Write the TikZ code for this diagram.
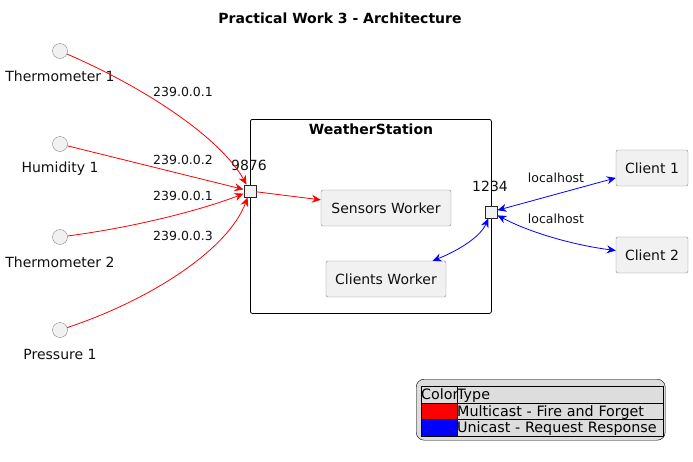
\documentclass[tikz,border=0pt]{standalone}
\usepackage{fontspec}
\setmainfont{DejaVu Sans}
\usetikzlibrary{arrows.meta}
\definecolor{boxfill}{HTML}{F1F1F1}
\definecolor{boxline}{HTML}{888888}
\definecolor{legfill}{HTML}{DDDDDD}
\definecolor{txt}{HTML}{101010}
\tikzset{
  lbl/.style={font=\fontsize{14}{16}\selectfont, inner sep=0pt, text=txt},
  elbl/.style={font=\fontsize{12.5}{14}\selectfont, inner sep=0pt, text=txt},
  actor/.style={circle, draw=boxline, fill=boxfill, minimum size=15pt, inner sep=0pt},
  comp/.style={draw=boxline, fill=boxfill, rounded corners=2pt, minimum height=36pt, inner sep=0pt, font=\fontsize{14}{16}\selectfont, text=txt},
  port/.style={draw=black!85, fill=boxfill, line width=1pt, minimum size=12pt, inner sep=0pt},
  redarr/.style={draw=red, line width=0.8pt, -{Stealth[length=9pt,width=8pt,inset=3pt]}},
  bluearr/.style={draw=blue, line width=0.8pt, {Stealth[length=9pt,width=8pt,inset=3pt]}-{Stealth[length=9pt,width=8pt,inset=3pt]}},
  cell/.style={draw=black, anchor=north west, inner sep=0pt, font=\fontsize{14.3}{15}\selectfont, text depth=0pt}
}
\begin{document}
\begin{tikzpicture}[x=1pt,y=-1pt]
\useasboundingbox (0,0) rectangle (693,461);
\node[font=\bfseries\fontsize{14}{16}\selectfont] (title) at (340,18) {Practical Work 3 - Architecture};

% container
\node[draw=black, rounded corners=2pt, minimum width=241pt, minimum height=194pt, anchor=north west, inner sep=0pt, line width=0.8pt] (ws) at (250,119) {};
\node[font=\bfseries\fontsize{14}{16}\selectfont] (wstitle) at (371,129) {WeatherStation};

% actors
\node[actor] (t1) at (60,51) {};
\node[lbl] (t1l) at (60,76) {Thermometer 1};
\node[actor] (h1) at (60,144) {};
\node[lbl] (h1l) at (60,169) {Humidity 1};
\node[actor] (t2) at (60,237) {};
\node[lbl] (t2l) at (60,262) {Thermometer 2};
\node[actor] (pr) at (60,330) {};
\node[lbl] (prl) at (60,354) {Pressure 1};

% components
\node[comp, minimum width=130pt] (sw) at (386,208) {Sensors Worker};
\node[comp, minimum width=120pt] (cw) at (386,279) {Clients Worker};
\node[comp, minimum width=72pt] (c1) at (652,168) {Client 1};
\node[comp, minimum width=72pt] (c2) at (652,255) {Client 2};

% ports
\node[port] (p9876) at (250,191) {};
\node[lbl] (p9876l) at (249,165) {9876};
\node[port] (p1234) at (491,212) {};
\node[lbl] (p1234l) at (490,186) {1234};

% red edges
\draw[redarr] (t1) .. controls (150,90) and (222,140) .. (p9876);
\draw[redarr] (h1) -- (p9876);
\draw[redarr] (t2) .. controls (150,225) and (215,205) .. (p9876);
\draw[redarr] (pr) .. controls (150,300) and (228,250) .. (p9876);
\draw[redarr] (p9876) -- (sw);

\node[elbl] (e1) at (183,92) {239.0.0.1};
\node[elbl] (e2) at (183,160) {239.0.0.2};
\node[elbl] (e3) at (183,196) {239.0.0.1};
\node[elbl] (e4) at (183,236) {239.0.0.3};

% blue edges
\draw[bluearr] (p1234) -- (c1);
\draw[bluearr] (p1234) .. controls (535,235) and (580,246) .. (c2);
\draw[bluearr] (p1234) .. controls (480,238) and (455,252) .. (cw);
\node[elbl] (l1) at (556,178) {localhost};
\node[elbl] (l2) at (556,219) {localhost};

% legend
\node[draw=black, fill=legfill, rounded corners=8pt, minimum width=249pt, minimum height=61pt, anchor=north west, inner sep=0pt] (leg) at (416,379) {};
\node[cell, fill=legfill, minimum width=36pt, minimum height=16.5pt, text width=36pt] (h1c) at (421,386) {Color};
\node[cell, fill=legfill, minimum width=206pt, minimum height=16.5pt, text width=206pt] (h2c) at (457,386) {Type};
\node[cell, fill=red, minimum width=36pt, minimum height=16.5pt] (r1c) at (421,402.5) {};
\node[cell, fill=legfill, minimum width=206pt, minimum height=16.5pt, text width=206pt] (r1t) at (457,402.5) {Multicast - Fire and Forget};
\node[cell, fill=blue, minimum width=36pt, minimum height=16.5pt] (r2c) at (421,419) {};
\node[cell, fill=legfill, minimum width=206pt, minimum height=16.5pt, text width=206pt] (r2t) at (457,419) {Unicast - Request Response};
\end{tikzpicture}
\end{document}
